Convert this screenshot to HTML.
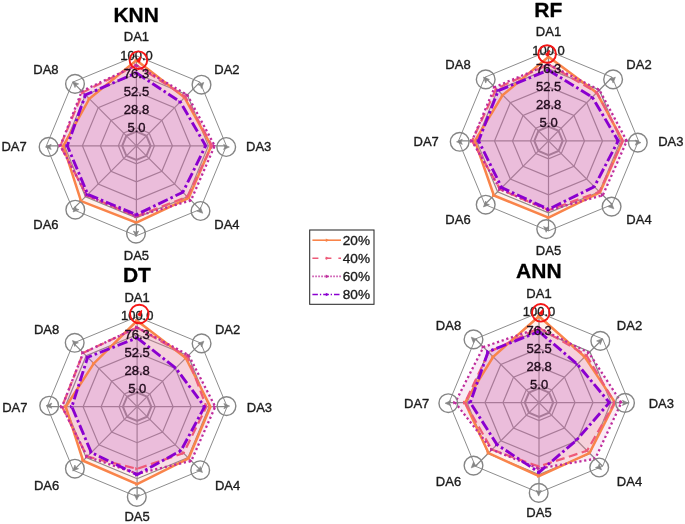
<!DOCTYPE html><html><head><meta charset="utf-8"><title>Radar</title>
<style>html,body{margin:0;padding:0;background:#fff}svg{display:block;filter:blur(0.45px)}text{font-family:"Liberation Sans", Arial, sans-serif;fill:#1c1c1c;stroke:#1c1c1c;stroke-width:0.35px;stroke-linejoin:round}</style></head><body>
<svg width="685" height="524" viewBox="0 0 685 524">
<rect width="685" height="524" fill="#fff"/>
<g>
<polygon points="136.40,127.80 149.13,133.07 154.40,145.80 149.13,158.53 136.40,163.80 123.67,158.53 118.40,145.80 123.67,133.07" fill="none" stroke="#858585" stroke-width="1.2"/>
<polygon points="136.40,109.80 161.86,120.34 172.40,145.80 161.86,171.26 136.40,181.80 110.94,171.26 100.40,145.80 110.94,120.34" fill="none" stroke="#858585" stroke-width="1.2"/>
<polygon points="136.40,91.80 174.58,107.62 190.40,145.80 174.58,183.98 136.40,199.80 98.22,183.98 82.40,145.80 98.22,107.62" fill="none" stroke="#858585" stroke-width="1.2"/>
<polygon points="136.40,73.80 187.31,94.89 208.40,145.80 187.31,196.71 136.40,217.80 85.49,196.71 64.40,145.80 85.49,94.89" fill="none" stroke="#858585" stroke-width="1.2"/>
<polygon points="136.40,55.80 200.04,82.16 226.40,145.80 200.04,209.44 136.40,235.80 72.76,209.44 46.40,145.80 72.76,82.16" fill="none" stroke="#8d8d8d" stroke-width="1.0"/>
<polygon points="136.40,131.60 146.44,135.76 150.60,145.80 146.44,155.84 136.40,160.00 126.36,155.84 122.20,145.80 126.36,135.76" fill="none" stroke="#858585" stroke-width="2.0"/>
<line x1="136.40" y1="145.80" x2="136.40" y2="55.80" stroke="#858585" stroke-width="1.2"/>
<line x1="136.40" y1="145.80" x2="200.04" y2="82.16" stroke="#858585" stroke-width="1.2"/>
<line x1="136.40" y1="145.80" x2="226.40" y2="145.80" stroke="#858585" stroke-width="1.2"/>
<line x1="136.40" y1="145.80" x2="200.04" y2="209.44" stroke="#858585" stroke-width="1.2"/>
<line x1="136.40" y1="145.80" x2="136.40" y2="235.80" stroke="#858585" stroke-width="1.2"/>
<line x1="136.40" y1="145.80" x2="72.76" y2="209.44" stroke="#858585" stroke-width="1.2"/>
<line x1="136.40" y1="145.80" x2="46.40" y2="145.80" stroke="#858585" stroke-width="1.2"/>
<line x1="136.40" y1="145.80" x2="72.76" y2="82.16" stroke="#858585" stroke-width="1.2"/>
<polygon points="136.40,60.30 184.58,97.62 211.28,145.80 188.58,197.98 136.40,222.57 81.03,201.17 63.32,145.80 89.31,98.71" fill="#FBA67D" fill-opacity="0.140" stroke="none"/>
<polygon points="136.40,65.25 185.40,96.80 212.00,145.80 187.31,196.71 136.40,216.45 86.76,195.44 60.35,145.80 82.94,92.34" fill="#F3889E" fill-opacity="0.140" stroke="none"/>
<polygon points="136.40,65.25 187.31,94.89 214.70,145.80 191.00,200.40 136.40,216.45 86.76,195.44 60.35,145.80 81.80,91.20" fill="#D167B8" fill-opacity="0.140" stroke="none"/>
<polygon points="136.40,72.90 180.31,101.89 205.70,145.80 182.86,192.26 136.40,214.65 87.78,194.42 67.28,145.80 85.49,94.89" fill="#AB47DD" fill-opacity="0.140" stroke="none"/>
<polygon points="136.40,60.30 184.58,97.62 211.28,145.80 188.58,197.98 136.40,222.57 81.03,201.17 63.32,145.80 89.31,98.71" fill="none" stroke="#F9844A" stroke-width="2.5" stroke-linejoin="miter"/>
<path d="M137.70 60.30 l-3.2 -1.9 v3.8 z" fill="#F9844A"/>
<path d="M185.88 97.62 l-3.2 -1.9 v3.8 z" fill="#F9844A"/>
<path d="M212.58 145.80 l-3.2 -1.9 v3.8 z" fill="#F9844A"/>
<path d="M189.88 197.98 l-3.2 -1.9 v3.8 z" fill="#F9844A"/>
<path d="M137.70 222.57 l-3.2 -1.9 v3.8 z" fill="#F9844A"/>
<path d="M82.33 201.17 l-3.2 -1.9 v3.8 z" fill="#F9844A"/>
<path d="M64.62 145.80 l-3.2 -1.9 v3.8 z" fill="#F9844A"/>
<path d="M90.61 98.71 l-3.2 -1.9 v3.8 z" fill="#F9844A"/>
<polygon points="136.40,65.25 185.40,96.80 212.00,145.80 187.31,196.71 136.40,216.45 86.76,195.44 60.35,145.80 82.94,92.34" fill="none" stroke="#EE5A78" stroke-width="2.2" stroke-linejoin="miter" stroke-dasharray="9 4.5"/>
<path d="M137.70 65.25 l-3.2 -1.9 v3.8 z" fill="#EE5A78"/>
<path d="M186.70 96.80 l-3.2 -1.9 v3.8 z" fill="#EE5A78"/>
<path d="M213.30 145.80 l-3.2 -1.9 v3.8 z" fill="#EE5A78"/>
<path d="M188.61 196.71 l-3.2 -1.9 v3.8 z" fill="#EE5A78"/>
<path d="M137.70 216.45 l-3.2 -1.9 v3.8 z" fill="#EE5A78"/>
<path d="M88.06 195.44 l-3.2 -1.9 v3.8 z" fill="#EE5A78"/>
<path d="M61.65 145.80 l-3.2 -1.9 v3.8 z" fill="#EE5A78"/>
<path d="M84.24 92.34 l-3.2 -1.9 v3.8 z" fill="#EE5A78"/>
<polygon points="136.40,65.25 187.31,94.89 214.70,145.80 191.00,200.40 136.40,216.45 86.76,195.44 60.35,145.80 81.80,91.20" fill="none" stroke="#BF2C9C" stroke-width="2.3" stroke-linejoin="miter" stroke-dasharray="2.2 2.7"/>
<path d="M137.70 65.25 l-3.2 -1.9 v3.8 z" fill="#BF2C9C"/>
<path d="M188.61 94.89 l-3.2 -1.9 v3.8 z" fill="#BF2C9C"/>
<path d="M216.00 145.80 l-3.2 -1.9 v3.8 z" fill="#BF2C9C"/>
<path d="M192.30 200.40 l-3.2 -1.9 v3.8 z" fill="#BF2C9C"/>
<path d="M137.70 216.45 l-3.2 -1.9 v3.8 z" fill="#BF2C9C"/>
<path d="M88.06 195.44 l-3.2 -1.9 v3.8 z" fill="#BF2C9C"/>
<path d="M61.65 145.80 l-3.2 -1.9 v3.8 z" fill="#BF2C9C"/>
<path d="M83.10 91.20 l-3.2 -1.9 v3.8 z" fill="#BF2C9C"/>
<polygon points="136.40,72.90 180.31,101.89 205.70,145.80 182.86,192.26 136.40,214.65 87.78,194.42 67.28,145.80 85.49,94.89" fill="none" stroke="#8A00D0" stroke-width="2.9" stroke-linejoin="miter" stroke-dasharray="10.5 3 2.6 3"/>
<path d="M137.70 72.90 l-3.2 -1.9 v3.8 z" fill="#8A00D0"/>
<path d="M181.61 101.89 l-3.2 -1.9 v3.8 z" fill="#8A00D0"/>
<path d="M207.00 145.80 l-3.2 -1.9 v3.8 z" fill="#8A00D0"/>
<path d="M184.16 192.26 l-3.2 -1.9 v3.8 z" fill="#8A00D0"/>
<path d="M137.70 214.65 l-3.2 -1.9 v3.8 z" fill="#8A00D0"/>
<path d="M89.08 194.42 l-3.2 -1.9 v3.8 z" fill="#8A00D0"/>
<path d="M68.58 145.80 l-3.2 -1.9 v3.8 z" fill="#8A00D0"/>
<path d="M86.79 94.89 l-3.2 -1.9 v3.8 z" fill="#8A00D0"/>
<circle cx="201.50" cy="84.70" r="9.35" fill="none" stroke="#858585" stroke-width="1.4"/>
<path d="M3.2 0 L-2.6 -2.6 L-1.4 0 L-2.6 2.6 Z" stroke="#858585" stroke-width="0.6" stroke-linejoin="round" fill="#858585" transform="translate(201.50,84.70) rotate(-45)"/>
<circle cx="226.20" cy="147.00" r="9.35" fill="none" stroke="#858585" stroke-width="1.4"/>
<path d="M3.2 0 L-2.6 -2.6 L-1.4 0 L-2.6 2.6 Z" stroke="#858585" stroke-width="0.6" stroke-linejoin="round" fill="#858585" transform="translate(226.20,147.00) rotate(0)"/>
<circle cx="200.50" cy="211.00" r="9.35" fill="none" stroke="#858585" stroke-width="1.4"/>
<path d="M3.2 0 L-2.6 -2.6 L-1.4 0 L-2.6 2.6 Z" stroke="#858585" stroke-width="0.6" stroke-linejoin="round" fill="#858585" transform="translate(200.50,211.00) rotate(45)"/>
<circle cx="136.00" cy="233.60" r="9.35" fill="none" stroke="#858585" stroke-width="1.4"/>
<path d="M3.2 0 L-2.6 -2.6 L-1.4 0 L-2.6 2.6 Z" stroke="#858585" stroke-width="0.6" stroke-linejoin="round" fill="#858585" transform="translate(136.00,233.60) rotate(90)"/>
<circle cx="75.30" cy="209.70" r="9.35" fill="none" stroke="#858585" stroke-width="1.4"/>
<path d="M3.2 0 L-2.6 -2.6 L-1.4 0 L-2.6 2.6 Z" stroke="#858585" stroke-width="0.6" stroke-linejoin="round" fill="#858585" transform="translate(75.30,209.70) rotate(135)"/>
<circle cx="48.60" cy="146.90" r="9.35" fill="none" stroke="#858585" stroke-width="1.4"/>
<path d="M3.2 0 L-2.6 -2.6 L-1.4 0 L-2.6 2.6 Z" stroke="#858585" stroke-width="0.6" stroke-linejoin="round" fill="#858585" transform="translate(48.60,146.90) rotate(180)"/>
<circle cx="75.00" cy="83.90" r="9.35" fill="none" stroke="#858585" stroke-width="1.4"/>
<path d="M3.2 0 L-2.6 -2.6 L-1.4 0 L-2.6 2.6 Z" stroke="#858585" stroke-width="0.6" stroke-linejoin="round" fill="#858585" transform="translate(75.00,83.90) rotate(225)"/>
<text x="136.50" y="131.80" font-size="13" text-anchor="middle" style="fill:#200b1c;stroke:#200b1c">5.0</text>
<text x="136.50" y="113.80" font-size="13" text-anchor="middle" style="fill:#200b1c;stroke:#200b1c">28.8</text>
<text x="136.50" y="95.80" font-size="13" text-anchor="middle" style="fill:#200b1c;stroke:#200b1c">52.5</text>
<text x="136.50" y="77.80" font-size="13" text-anchor="middle" style="fill:#200b1c;stroke:#200b1c">76.3</text>
<text x="136.50" y="59.50" font-size="13" text-anchor="middle" style="fill:#1c1c1c;stroke:#1c1c1c">100.0</text>
<circle cx="138.40" cy="60.20" r="8.8" fill="none" stroke="#F51616" stroke-width="1.9"/>
<path d="M137.20 60.80 l3.4 -3.8 l-1.2 5 z" fill="#F51616" stroke="#F51616" stroke-width="1.4" stroke-linejoin="round"/>
<text x="136.40" y="41.00" font-size="13" text-anchor="middle">DA1</text>
<text x="226.90" y="73.50" font-size="13" text-anchor="middle">DA2</text>
<text x="258.70" y="150.80" font-size="13" text-anchor="middle">DA3</text>
<text x="226.90" y="228.70" font-size="13" text-anchor="middle">DA4</text>
<text x="136.40" y="260.30" font-size="13" text-anchor="middle">DA5</text>
<text x="45.90" y="228.70" font-size="13" text-anchor="middle">DA6</text>
<text x="14.10" y="150.80" font-size="13" text-anchor="middle">DA7</text>
<text x="45.90" y="73.50" font-size="13" text-anchor="middle">DA8</text>
<text x="136.20" y="21.50" font-size="21" font-weight="bold" text-anchor="middle" style="fill:#000;stroke:#000;stroke-width:0.3px">KNN</text>
</g>
<g>
<polygon points="548.50,122.90 561.23,128.17 566.50,140.90 561.23,153.63 548.50,158.90 535.77,153.63 530.50,140.90 535.77,128.17" fill="none" stroke="#858585" stroke-width="1.2"/>
<polygon points="548.50,104.90 573.96,115.44 584.50,140.90 573.96,166.36 548.50,176.90 523.04,166.36 512.50,140.90 523.04,115.44" fill="none" stroke="#858585" stroke-width="1.2"/>
<polygon points="548.50,86.90 586.68,102.72 602.50,140.90 586.68,179.08 548.50,194.90 510.32,179.08 494.50,140.90 510.32,102.72" fill="none" stroke="#858585" stroke-width="1.2"/>
<polygon points="548.50,68.90 599.41,89.99 620.50,140.90 599.41,191.81 548.50,212.90 497.59,191.81 476.50,140.90 497.59,89.99" fill="none" stroke="#858585" stroke-width="1.2"/>
<polygon points="548.50,50.90 612.14,77.26 638.50,140.90 612.14,204.54 548.50,230.90 484.86,204.54 458.50,140.90 484.86,77.26" fill="none" stroke="#8d8d8d" stroke-width="1.0"/>
<polygon points="548.50,126.70 558.54,130.86 562.70,140.90 558.54,150.94 548.50,155.10 538.46,150.94 534.30,140.90 538.46,130.86" fill="none" stroke="#858585" stroke-width="2.0"/>
<line x1="548.50" y1="140.90" x2="548.50" y2="50.90" stroke="#858585" stroke-width="1.2"/>
<line x1="548.50" y1="140.90" x2="612.14" y2="77.26" stroke="#858585" stroke-width="1.2"/>
<line x1="548.50" y1="140.90" x2="638.50" y2="140.90" stroke="#858585" stroke-width="1.2"/>
<line x1="548.50" y1="140.90" x2="612.14" y2="204.54" stroke="#858585" stroke-width="1.2"/>
<line x1="548.50" y1="140.90" x2="548.50" y2="230.90" stroke="#858585" stroke-width="1.2"/>
<line x1="548.50" y1="140.90" x2="484.86" y2="204.54" stroke="#858585" stroke-width="1.2"/>
<line x1="548.50" y1="140.90" x2="458.50" y2="140.90" stroke="#858585" stroke-width="1.2"/>
<line x1="548.50" y1="140.90" x2="484.86" y2="77.26" stroke="#858585" stroke-width="1.2"/>
<polygon points="548.50,56.75 596.74,92.66 622.75,140.90 600.05,192.45 548.50,217.58 493.90,195.50 474.88,140.90 502.68,95.08" fill="#FBA67D" fill-opacity="0.140" stroke="none"/>
<polygon points="548.50,64.40 596.87,92.53 622.75,140.90 599.41,191.81 548.50,210.20 500.13,189.27 472.00,140.90 496.32,88.72" fill="#F3889E" fill-opacity="0.140" stroke="none"/>
<polygon points="548.50,64.40 599.41,89.99 626.80,140.90 602.85,195.25 548.50,210.20 500.13,189.27 472.00,140.90 494.72,87.12" fill="#D167B8" fill-opacity="0.140" stroke="none"/>
<polygon points="548.50,70.16 592.28,97.12 618.16,140.90 594.32,186.72 548.50,209.30 501.72,187.68 478.57,140.90 498.22,90.62" fill="#AB47DD" fill-opacity="0.140" stroke="none"/>
<polygon points="548.50,56.75 596.74,92.66 622.75,140.90 600.05,192.45 548.50,217.58 493.90,195.50 474.88,140.90 502.68,95.08" fill="none" stroke="#F9844A" stroke-width="2.5" stroke-linejoin="miter"/>
<path d="M549.80 56.75 l-3.2 -1.9 v3.8 z" fill="#F9844A"/>
<path d="M598.04 92.66 l-3.2 -1.9 v3.8 z" fill="#F9844A"/>
<path d="M624.05 140.90 l-3.2 -1.9 v3.8 z" fill="#F9844A"/>
<path d="M601.35 192.45 l-3.2 -1.9 v3.8 z" fill="#F9844A"/>
<path d="M549.80 217.58 l-3.2 -1.9 v3.8 z" fill="#F9844A"/>
<path d="M495.20 195.50 l-3.2 -1.9 v3.8 z" fill="#F9844A"/>
<path d="M476.18 140.90 l-3.2 -1.9 v3.8 z" fill="#F9844A"/>
<path d="M503.98 95.08 l-3.2 -1.9 v3.8 z" fill="#F9844A"/>
<polygon points="548.50,64.40 596.87,92.53 622.75,140.90 599.41,191.81 548.50,210.20 500.13,189.27 472.00,140.90 496.32,88.72" fill="none" stroke="#EE5A78" stroke-width="2.2" stroke-linejoin="miter" stroke-dasharray="9 4.5"/>
<path d="M549.80 64.40 l-3.2 -1.9 v3.8 z" fill="#EE5A78"/>
<path d="M598.17 92.53 l-3.2 -1.9 v3.8 z" fill="#EE5A78"/>
<path d="M624.05 140.90 l-3.2 -1.9 v3.8 z" fill="#EE5A78"/>
<path d="M600.71 191.81 l-3.2 -1.9 v3.8 z" fill="#EE5A78"/>
<path d="M549.80 210.20 l-3.2 -1.9 v3.8 z" fill="#EE5A78"/>
<path d="M501.43 189.27 l-3.2 -1.9 v3.8 z" fill="#EE5A78"/>
<path d="M473.30 140.90 l-3.2 -1.9 v3.8 z" fill="#EE5A78"/>
<path d="M497.62 88.72 l-3.2 -1.9 v3.8 z" fill="#EE5A78"/>
<polygon points="548.50,64.40 599.41,89.99 626.80,140.90 602.85,195.25 548.50,210.20 500.13,189.27 472.00,140.90 494.72,87.12" fill="none" stroke="#BF2C9C" stroke-width="2.3" stroke-linejoin="miter" stroke-dasharray="2.2 2.7"/>
<path d="M549.80 64.40 l-3.2 -1.9 v3.8 z" fill="#BF2C9C"/>
<path d="M600.71 89.99 l-3.2 -1.9 v3.8 z" fill="#BF2C9C"/>
<path d="M628.10 140.90 l-3.2 -1.9 v3.8 z" fill="#BF2C9C"/>
<path d="M604.15 195.25 l-3.2 -1.9 v3.8 z" fill="#BF2C9C"/>
<path d="M549.80 210.20 l-3.2 -1.9 v3.8 z" fill="#BF2C9C"/>
<path d="M501.43 189.27 l-3.2 -1.9 v3.8 z" fill="#BF2C9C"/>
<path d="M473.30 140.90 l-3.2 -1.9 v3.8 z" fill="#BF2C9C"/>
<path d="M496.02 87.12 l-3.2 -1.9 v3.8 z" fill="#BF2C9C"/>
<polygon points="548.50,70.16 592.28,97.12 618.16,140.90 594.32,186.72 548.50,209.30 501.72,187.68 478.57,140.90 498.22,90.62" fill="none" stroke="#8A00D0" stroke-width="2.9" stroke-linejoin="miter" stroke-dasharray="10.5 3 2.6 3"/>
<path d="M549.80 70.16 l-3.2 -1.9 v3.8 z" fill="#8A00D0"/>
<path d="M593.58 97.12 l-3.2 -1.9 v3.8 z" fill="#8A00D0"/>
<path d="M619.46 140.90 l-3.2 -1.9 v3.8 z" fill="#8A00D0"/>
<path d="M595.62 186.72 l-3.2 -1.9 v3.8 z" fill="#8A00D0"/>
<path d="M549.80 209.30 l-3.2 -1.9 v3.8 z" fill="#8A00D0"/>
<path d="M503.02 187.68 l-3.2 -1.9 v3.8 z" fill="#8A00D0"/>
<path d="M479.87 140.90 l-3.2 -1.9 v3.8 z" fill="#8A00D0"/>
<path d="M499.52 90.62 l-3.2 -1.9 v3.8 z" fill="#8A00D0"/>
<circle cx="613.10" cy="79.40" r="9.35" fill="none" stroke="#858585" stroke-width="1.4"/>
<path d="M3.2 0 L-2.6 -2.6 L-1.4 0 L-2.6 2.6 Z" stroke="#858585" stroke-width="0.6" stroke-linejoin="round" fill="#858585" transform="translate(613.10,79.40) rotate(-45)"/>
<circle cx="637.80" cy="142.60" r="9.35" fill="none" stroke="#858585" stroke-width="1.4"/>
<path d="M3.2 0 L-2.6 -2.6 L-1.4 0 L-2.6 2.6 Z" stroke="#858585" stroke-width="0.6" stroke-linejoin="round" fill="#858585" transform="translate(637.80,142.60) rotate(0)"/>
<circle cx="611.60" cy="206.60" r="9.35" fill="none" stroke="#858585" stroke-width="1.4"/>
<path d="M3.2 0 L-2.6 -2.6 L-1.4 0 L-2.6 2.6 Z" stroke="#858585" stroke-width="0.6" stroke-linejoin="round" fill="#858585" transform="translate(611.60,206.60) rotate(45)"/>
<circle cx="546.20" cy="229.10" r="9.35" fill="none" stroke="#858585" stroke-width="1.4"/>
<path d="M3.2 0 L-2.6 -2.6 L-1.4 0 L-2.6 2.6 Z" stroke="#858585" stroke-width="0.6" stroke-linejoin="round" fill="#858585" transform="translate(546.20,229.10) rotate(90)"/>
<circle cx="485.70" cy="204.70" r="9.35" fill="none" stroke="#858585" stroke-width="1.4"/>
<path d="M3.2 0 L-2.6 -2.6 L-1.4 0 L-2.6 2.6 Z" stroke="#858585" stroke-width="0.6" stroke-linejoin="round" fill="#858585" transform="translate(485.70,204.70) rotate(135)"/>
<circle cx="459.70" cy="141.80" r="9.35" fill="none" stroke="#858585" stroke-width="1.4"/>
<path d="M3.2 0 L-2.6 -2.6 L-1.4 0 L-2.6 2.6 Z" stroke="#858585" stroke-width="0.6" stroke-linejoin="round" fill="#858585" transform="translate(459.70,141.80) rotate(180)"/>
<circle cx="485.70" cy="79.40" r="9.35" fill="none" stroke="#858585" stroke-width="1.4"/>
<path d="M3.2 0 L-2.6 -2.6 L-1.4 0 L-2.6 2.6 Z" stroke="#858585" stroke-width="0.6" stroke-linejoin="round" fill="#858585" transform="translate(485.70,79.40) rotate(225)"/>
<text x="548.60" y="126.90" font-size="13" text-anchor="middle" style="fill:#200b1c;stroke:#200b1c">5.0</text>
<text x="548.60" y="108.90" font-size="13" text-anchor="middle" style="fill:#200b1c;stroke:#200b1c">28.8</text>
<text x="548.60" y="90.90" font-size="13" text-anchor="middle" style="fill:#200b1c;stroke:#200b1c">52.5</text>
<text x="548.60" y="72.90" font-size="13" text-anchor="middle" style="fill:#200b1c;stroke:#200b1c">76.3</text>
<text x="548.60" y="54.60" font-size="13" text-anchor="middle" style="fill:#1c1c1c;stroke:#1c1c1c">100.0</text>
<circle cx="547.10" cy="54.00" r="8.8" fill="none" stroke="#F51616" stroke-width="1.9"/>
<path d="M545.90 54.60 l3.4 -3.8 l-1.2 5 z" fill="#F51616" stroke="#F51616" stroke-width="1.4" stroke-linejoin="round"/>
<text x="548.50" y="36.10" font-size="13" text-anchor="middle">DA1</text>
<text x="639.00" y="68.60" font-size="13" text-anchor="middle">DA2</text>
<text x="670.80" y="145.90" font-size="13" text-anchor="middle">DA3</text>
<text x="639.00" y="223.80" font-size="13" text-anchor="middle">DA4</text>
<text x="548.50" y="255.40" font-size="13" text-anchor="middle">DA5</text>
<text x="458.00" y="223.80" font-size="13" text-anchor="middle">DA6</text>
<text x="426.20" y="145.90" font-size="13" text-anchor="middle">DA7</text>
<text x="458.00" y="68.60" font-size="13" text-anchor="middle">DA8</text>
<text x="548.30" y="16.60" font-size="21" font-weight="bold" text-anchor="middle" style="fill:#000;stroke:#000;stroke-width:0.3px">RF</text>
</g>
<g>
<polygon points="137.10,388.70 149.83,393.97 155.10,406.70 149.83,419.43 137.10,424.70 124.37,419.43 119.10,406.70 124.37,393.97" fill="none" stroke="#858585" stroke-width="1.2"/>
<polygon points="137.10,370.70 162.56,381.24 173.10,406.70 162.56,432.16 137.10,442.70 111.64,432.16 101.10,406.70 111.64,381.24" fill="none" stroke="#858585" stroke-width="1.2"/>
<polygon points="137.10,352.70 175.28,368.52 191.10,406.70 175.28,444.88 137.10,460.70 98.92,444.88 83.10,406.70 98.92,368.52" fill="none" stroke="#858585" stroke-width="1.2"/>
<polygon points="137.10,334.70 188.01,355.79 209.10,406.70 188.01,457.61 137.10,478.70 86.19,457.61 65.10,406.70 86.19,355.79" fill="none" stroke="#858585" stroke-width="1.2"/>
<polygon points="137.10,316.70 200.74,343.06 227.10,406.70 200.74,470.34 137.10,496.70 73.46,470.34 47.10,406.70 73.46,343.06" fill="none" stroke="#8d8d8d" stroke-width="1.0"/>
<polygon points="137.10,392.50 147.14,396.66 151.30,406.70 147.14,416.74 137.10,420.90 127.06,416.74 122.90,406.70 127.06,396.66" fill="none" stroke="#858585" stroke-width="2.0"/>
<line x1="137.10" y1="406.70" x2="137.10" y2="316.70" stroke="#858585" stroke-width="1.2"/>
<line x1="137.10" y1="406.70" x2="200.74" y2="343.06" stroke="#858585" stroke-width="1.2"/>
<line x1="137.10" y1="406.70" x2="227.10" y2="406.70" stroke="#858585" stroke-width="1.2"/>
<line x1="137.10" y1="406.70" x2="200.74" y2="470.34" stroke="#858585" stroke-width="1.2"/>
<line x1="137.10" y1="406.70" x2="137.10" y2="496.70" stroke="#858585" stroke-width="1.2"/>
<line x1="137.10" y1="406.70" x2="73.46" y2="470.34" stroke="#858585" stroke-width="1.2"/>
<line x1="137.10" y1="406.70" x2="47.10" y2="406.70" stroke="#858585" stroke-width="1.2"/>
<line x1="137.10" y1="406.70" x2="73.46" y2="343.06" stroke="#858585" stroke-width="1.2"/>
<polygon points="137.10,320.75 185.78,358.02 210.45,406.70 188.65,458.25 137.10,484.10 83.07,460.73 65.73,406.70 93.83,363.43" fill="#FBA67D" fill-opacity="0.140" stroke="none"/>
<polygon points="137.10,327.50 187.38,356.42 206.40,406.70 183.56,453.16 137.10,468.80 87.14,456.66 62.04,406.70 83.20,352.80" fill="#F3889E" fill-opacity="0.140" stroke="none"/>
<polygon points="137.10,327.50 188.65,355.15 215.22,406.70 191.32,460.92 137.10,473.66 87.14,456.66 62.04,406.70 83.20,352.80" fill="#D167B8" fill-opacity="0.140" stroke="none"/>
<polygon points="137.10,337.85 175.73,368.07 204.60,406.70 181.01,450.61 137.10,474.74 91.28,452.52 71.85,406.70 87.65,357.25" fill="#AB47DD" fill-opacity="0.140" stroke="none"/>
<polygon points="137.10,320.75 185.78,358.02 210.45,406.70 188.65,458.25 137.10,484.10 83.07,460.73 65.73,406.70 93.83,363.43" fill="none" stroke="#F9844A" stroke-width="2.5" stroke-linejoin="miter"/>
<path d="M138.40 320.75 l-3.2 -1.9 v3.8 z" fill="#F9844A"/>
<path d="M187.08 358.02 l-3.2 -1.9 v3.8 z" fill="#F9844A"/>
<path d="M211.75 406.70 l-3.2 -1.9 v3.8 z" fill="#F9844A"/>
<path d="M189.95 458.25 l-3.2 -1.9 v3.8 z" fill="#F9844A"/>
<path d="M138.40 484.10 l-3.2 -1.9 v3.8 z" fill="#F9844A"/>
<path d="M84.37 460.73 l-3.2 -1.9 v3.8 z" fill="#F9844A"/>
<path d="M67.03 406.70 l-3.2 -1.9 v3.8 z" fill="#F9844A"/>
<path d="M95.13 363.43 l-3.2 -1.9 v3.8 z" fill="#F9844A"/>
<polygon points="137.10,327.50 187.38,356.42 206.40,406.70 183.56,453.16 137.10,468.80 87.14,456.66 62.04,406.70 83.20,352.80" fill="none" stroke="#EE5A78" stroke-width="2.2" stroke-linejoin="miter" stroke-dasharray="9 4.5"/>
<path d="M138.40 327.50 l-3.2 -1.9 v3.8 z" fill="#EE5A78"/>
<path d="M188.68 356.42 l-3.2 -1.9 v3.8 z" fill="#EE5A78"/>
<path d="M207.70 406.70 l-3.2 -1.9 v3.8 z" fill="#EE5A78"/>
<path d="M184.86 453.16 l-3.2 -1.9 v3.8 z" fill="#EE5A78"/>
<path d="M138.40 468.80 l-3.2 -1.9 v3.8 z" fill="#EE5A78"/>
<path d="M88.44 456.66 l-3.2 -1.9 v3.8 z" fill="#EE5A78"/>
<path d="M63.34 406.70 l-3.2 -1.9 v3.8 z" fill="#EE5A78"/>
<path d="M84.50 352.80 l-3.2 -1.9 v3.8 z" fill="#EE5A78"/>
<polygon points="137.10,327.50 188.65,355.15 215.22,406.70 191.32,460.92 137.10,473.66 87.14,456.66 62.04,406.70 83.20,352.80" fill="none" stroke="#BF2C9C" stroke-width="2.3" stroke-linejoin="miter" stroke-dasharray="2.2 2.7"/>
<path d="M138.40 327.50 l-3.2 -1.9 v3.8 z" fill="#BF2C9C"/>
<path d="M189.95 355.15 l-3.2 -1.9 v3.8 z" fill="#BF2C9C"/>
<path d="M216.52 406.70 l-3.2 -1.9 v3.8 z" fill="#BF2C9C"/>
<path d="M192.62 460.92 l-3.2 -1.9 v3.8 z" fill="#BF2C9C"/>
<path d="M138.40 473.66 l-3.2 -1.9 v3.8 z" fill="#BF2C9C"/>
<path d="M88.44 456.66 l-3.2 -1.9 v3.8 z" fill="#BF2C9C"/>
<path d="M63.34 406.70 l-3.2 -1.9 v3.8 z" fill="#BF2C9C"/>
<path d="M84.50 352.80 l-3.2 -1.9 v3.8 z" fill="#BF2C9C"/>
<polygon points="137.10,337.85 175.73,368.07 204.60,406.70 181.01,450.61 137.10,474.74 91.28,452.52 71.85,406.70 87.65,357.25" fill="none" stroke="#8A00D0" stroke-width="2.9" stroke-linejoin="miter" stroke-dasharray="10.5 3 2.6 3"/>
<path d="M138.40 337.85 l-3.2 -1.9 v3.8 z" fill="#8A00D0"/>
<path d="M177.03 368.07 l-3.2 -1.9 v3.8 z" fill="#8A00D0"/>
<path d="M205.90 406.70 l-3.2 -1.9 v3.8 z" fill="#8A00D0"/>
<path d="M182.31 450.61 l-3.2 -1.9 v3.8 z" fill="#8A00D0"/>
<path d="M138.40 474.74 l-3.2 -1.9 v3.8 z" fill="#8A00D0"/>
<path d="M92.58 452.52 l-3.2 -1.9 v3.8 z" fill="#8A00D0"/>
<path d="M73.15 406.70 l-3.2 -1.9 v3.8 z" fill="#8A00D0"/>
<path d="M88.95 357.25 l-3.2 -1.9 v3.8 z" fill="#8A00D0"/>
<circle cx="201.60" cy="343.40" r="9.35" fill="none" stroke="#858585" stroke-width="1.4"/>
<path d="M3.2 0 L-2.6 -2.6 L-1.4 0 L-2.6 2.6 Z" stroke="#858585" stroke-width="0.6" stroke-linejoin="round" fill="#858585" transform="translate(201.60,343.40) rotate(-45)"/>
<circle cx="226.50" cy="406.10" r="9.35" fill="none" stroke="#858585" stroke-width="1.4"/>
<path d="M3.2 0 L-2.6 -2.6 L-1.4 0 L-2.6 2.6 Z" stroke="#858585" stroke-width="0.6" stroke-linejoin="round" fill="#858585" transform="translate(226.50,406.10) rotate(0)"/>
<circle cx="200.20" cy="470.20" r="9.35" fill="none" stroke="#858585" stroke-width="1.4"/>
<path d="M3.2 0 L-2.6 -2.6 L-1.4 0 L-2.6 2.6 Z" stroke="#858585" stroke-width="0.6" stroke-linejoin="round" fill="#858585" transform="translate(200.20,470.20) rotate(45)"/>
<circle cx="136.80" cy="496.90" r="9.35" fill="none" stroke="#858585" stroke-width="1.4"/>
<path d="M3.2 0 L-2.6 -2.6 L-1.4 0 L-2.6 2.6 Z" stroke="#858585" stroke-width="0.6" stroke-linejoin="round" fill="#858585" transform="translate(136.80,496.90) rotate(90)"/>
<circle cx="74.90" cy="468.70" r="9.35" fill="none" stroke="#858585" stroke-width="1.4"/>
<path d="M3.2 0 L-2.6 -2.6 L-1.4 0 L-2.6 2.6 Z" stroke="#858585" stroke-width="0.6" stroke-linejoin="round" fill="#858585" transform="translate(74.90,468.70) rotate(135)"/>
<circle cx="49.20" cy="405.70" r="9.35" fill="none" stroke="#858585" stroke-width="1.4"/>
<path d="M3.2 0 L-2.6 -2.6 L-1.4 0 L-2.6 2.6 Z" stroke="#858585" stroke-width="0.6" stroke-linejoin="round" fill="#858585" transform="translate(49.20,405.70) rotate(180)"/>
<circle cx="74.70" cy="342.80" r="9.35" fill="none" stroke="#858585" stroke-width="1.4"/>
<path d="M3.2 0 L-2.6 -2.6 L-1.4 0 L-2.6 2.6 Z" stroke="#858585" stroke-width="0.6" stroke-linejoin="round" fill="#858585" transform="translate(74.70,342.80) rotate(225)"/>
<text x="137.20" y="392.70" font-size="13" text-anchor="middle" style="fill:#200b1c;stroke:#200b1c">5.0</text>
<text x="137.20" y="374.70" font-size="13" text-anchor="middle" style="fill:#200b1c;stroke:#200b1c">28.8</text>
<text x="137.20" y="356.70" font-size="13" text-anchor="middle" style="fill:#200b1c;stroke:#200b1c">52.5</text>
<text x="137.20" y="338.70" font-size="13" text-anchor="middle" style="fill:#200b1c;stroke:#200b1c">76.3</text>
<text x="137.20" y="320.40" font-size="13" text-anchor="middle" style="fill:#1c1c1c;stroke:#1c1c1c">100.0</text>
<circle cx="139.30" cy="314.00" r="9.3" fill="none" stroke="#F51616" stroke-width="1.9"/>
<path d="M138.10 314.60 l3.4 -3.8 l-1.2 5 z" fill="#F51616" stroke="#F51616" stroke-width="1.4" stroke-linejoin="round"/>
<text x="137.10" y="301.90" font-size="13" text-anchor="middle">DA1</text>
<text x="227.60" y="334.40" font-size="13" text-anchor="middle">DA2</text>
<text x="259.40" y="411.70" font-size="13" text-anchor="middle">DA3</text>
<text x="227.60" y="489.60" font-size="13" text-anchor="middle">DA4</text>
<text x="137.10" y="521.20" font-size="13" text-anchor="middle">DA5</text>
<text x="46.60" y="489.60" font-size="13" text-anchor="middle">DA6</text>
<text x="14.80" y="411.70" font-size="13" text-anchor="middle">DA7</text>
<text x="46.60" y="334.40" font-size="13" text-anchor="middle">DA8</text>
<text x="136.90" y="282.40" font-size="21" font-weight="bold" text-anchor="middle" style="fill:#000;stroke:#000;stroke-width:0.3px">DT</text>
</g>
<g>
<polygon points="539.00,384.60 551.73,389.87 557.00,402.60 551.73,415.33 539.00,420.60 526.27,415.33 521.00,402.60 526.27,389.87" fill="none" stroke="#858585" stroke-width="1.2"/>
<polygon points="539.00,366.60 564.46,377.14 575.00,402.60 564.46,428.06 539.00,438.60 513.54,428.06 503.00,402.60 513.54,377.14" fill="none" stroke="#858585" stroke-width="1.2"/>
<polygon points="539.00,348.60 577.18,364.42 593.00,402.60 577.18,440.78 539.00,456.60 500.82,440.78 485.00,402.60 500.82,364.42" fill="none" stroke="#858585" stroke-width="1.2"/>
<polygon points="539.00,330.60 589.91,351.69 611.00,402.60 589.91,453.51 539.00,474.60 488.09,453.51 467.00,402.60 488.09,351.69" fill="none" stroke="#858585" stroke-width="1.2"/>
<polygon points="539.00,312.60 602.64,338.96 629.00,402.60 602.64,466.24 539.00,492.60 475.36,466.24 449.00,402.60 475.36,338.96" fill="none" stroke="#8d8d8d" stroke-width="1.0"/>
<polygon points="539.00,388.40 549.04,392.56 553.20,402.60 549.04,412.64 539.00,416.80 528.96,412.64 524.80,402.60 528.96,392.56" fill="none" stroke="#858585" stroke-width="2.0"/>
<line x1="539.00" y1="402.60" x2="539.00" y2="312.60" stroke="#858585" stroke-width="1.2"/>
<line x1="539.00" y1="402.60" x2="602.64" y2="338.96" stroke="#858585" stroke-width="1.2"/>
<line x1="539.00" y1="402.60" x2="629.00" y2="402.60" stroke="#858585" stroke-width="1.2"/>
<line x1="539.00" y1="402.60" x2="602.64" y2="466.24" stroke="#858585" stroke-width="1.2"/>
<line x1="539.00" y1="402.60" x2="539.00" y2="492.60" stroke="#858585" stroke-width="1.2"/>
<line x1="539.00" y1="402.60" x2="475.36" y2="466.24" stroke="#858585" stroke-width="1.2"/>
<line x1="539.00" y1="402.60" x2="449.00" y2="402.60" stroke="#858585" stroke-width="1.2"/>
<line x1="539.00" y1="402.60" x2="475.36" y2="338.96" stroke="#858585" stroke-width="1.2"/>
<polygon points="539.00,316.20 584.69,356.91 615.05,402.60 589.47,453.07 539.00,476.22 488.53,453.07 464.93,402.60 493.18,356.78" fill="#FBA67D" fill-opacity="0.140" stroke="none"/>
<polygon points="539.00,327.90 586.41,355.19 614.60,402.60 587.11,450.71 539.00,466.50 491.91,449.69 464.93,402.60 488.72,352.32" fill="#F3889E" fill-opacity="0.140" stroke="none"/>
<polygon points="539.00,327.90 588.83,352.77 621.35,402.60 595.19,458.79 539.00,468.57 491.91,449.69 455.12,402.60 483.44,347.04" fill="#D167B8" fill-opacity="0.140" stroke="none"/>
<polygon points="539.00,331.50 577.37,364.23 609.38,402.60 576.55,440.15 539.00,472.35 497.00,444.60 470.24,402.60 488.09,351.69" fill="#AB47DD" fill-opacity="0.140" stroke="none"/>
<polygon points="539.00,316.20 584.69,356.91 615.05,402.60 589.47,453.07 539.00,476.22 488.53,453.07 464.93,402.60 493.18,356.78" fill="none" stroke="#F9844A" stroke-width="2.5" stroke-linejoin="miter"/>
<path d="M540.30 316.20 l-3.2 -1.9 v3.8 z" fill="#F9844A"/>
<path d="M585.99 356.91 l-3.2 -1.9 v3.8 z" fill="#F9844A"/>
<path d="M616.35 402.60 l-3.2 -1.9 v3.8 z" fill="#F9844A"/>
<path d="M590.77 453.07 l-3.2 -1.9 v3.8 z" fill="#F9844A"/>
<path d="M540.30 476.22 l-3.2 -1.9 v3.8 z" fill="#F9844A"/>
<path d="M489.83 453.07 l-3.2 -1.9 v3.8 z" fill="#F9844A"/>
<path d="M466.23 402.60 l-3.2 -1.9 v3.8 z" fill="#F9844A"/>
<path d="M494.48 356.78 l-3.2 -1.9 v3.8 z" fill="#F9844A"/>
<polygon points="539.00,327.90 586.41,355.19 614.60,402.60 587.11,450.71 539.00,466.50 491.91,449.69 464.93,402.60 488.72,352.32" fill="none" stroke="#EE5A78" stroke-width="2.2" stroke-linejoin="miter" stroke-dasharray="9 4.5"/>
<path d="M540.30 327.90 l-3.2 -1.9 v3.8 z" fill="#EE5A78"/>
<path d="M587.71 355.19 l-3.2 -1.9 v3.8 z" fill="#EE5A78"/>
<path d="M615.90 402.60 l-3.2 -1.9 v3.8 z" fill="#EE5A78"/>
<path d="M588.41 450.71 l-3.2 -1.9 v3.8 z" fill="#EE5A78"/>
<path d="M540.30 466.50 l-3.2 -1.9 v3.8 z" fill="#EE5A78"/>
<path d="M493.21 449.69 l-3.2 -1.9 v3.8 z" fill="#EE5A78"/>
<path d="M466.23 402.60 l-3.2 -1.9 v3.8 z" fill="#EE5A78"/>
<path d="M490.02 352.32 l-3.2 -1.9 v3.8 z" fill="#EE5A78"/>
<polygon points="539.00,327.90 588.83,352.77 621.35,402.60 595.19,458.79 539.00,468.57 491.91,449.69 455.12,402.60 483.44,347.04" fill="none" stroke="#BF2C9C" stroke-width="2.3" stroke-linejoin="miter" stroke-dasharray="2.2 2.7"/>
<path d="M540.30 327.90 l-3.2 -1.9 v3.8 z" fill="#BF2C9C"/>
<path d="M590.13 352.77 l-3.2 -1.9 v3.8 z" fill="#BF2C9C"/>
<path d="M622.65 402.60 l-3.2 -1.9 v3.8 z" fill="#BF2C9C"/>
<path d="M596.49 458.79 l-3.2 -1.9 v3.8 z" fill="#BF2C9C"/>
<path d="M540.30 468.57 l-3.2 -1.9 v3.8 z" fill="#BF2C9C"/>
<path d="M493.21 449.69 l-3.2 -1.9 v3.8 z" fill="#BF2C9C"/>
<path d="M456.42 402.60 l-3.2 -1.9 v3.8 z" fill="#BF2C9C"/>
<path d="M484.74 347.04 l-3.2 -1.9 v3.8 z" fill="#BF2C9C"/>
<polygon points="539.00,331.50 577.37,364.23 609.38,402.60 576.55,440.15 539.00,472.35 497.00,444.60 470.24,402.60 488.09,351.69" fill="none" stroke="#8A00D0" stroke-width="2.9" stroke-linejoin="miter" stroke-dasharray="10.5 3 2.6 3"/>
<path d="M540.30 331.50 l-3.2 -1.9 v3.8 z" fill="#8A00D0"/>
<path d="M578.67 364.23 l-3.2 -1.9 v3.8 z" fill="#8A00D0"/>
<path d="M610.68 402.60 l-3.2 -1.9 v3.8 z" fill="#8A00D0"/>
<path d="M577.85 440.15 l-3.2 -1.9 v3.8 z" fill="#8A00D0"/>
<path d="M540.30 472.35 l-3.2 -1.9 v3.8 z" fill="#8A00D0"/>
<path d="M498.30 444.60 l-3.2 -1.9 v3.8 z" fill="#8A00D0"/>
<path d="M471.54 402.60 l-3.2 -1.9 v3.8 z" fill="#8A00D0"/>
<path d="M489.39 351.69 l-3.2 -1.9 v3.8 z" fill="#8A00D0"/>
<circle cx="600.30" cy="340.90" r="9.35" fill="none" stroke="#858585" stroke-width="1.4"/>
<path d="M3.2 0 L-2.6 -2.6 L-1.4 0 L-2.6 2.6 Z" stroke="#858585" stroke-width="0.6" stroke-linejoin="round" fill="#858585" transform="translate(600.30,340.90) rotate(-45)"/>
<circle cx="625.00" cy="402.90" r="9.35" fill="none" stroke="#858585" stroke-width="1.4"/>
<path d="M3.2 0 L-2.6 -2.6 L-1.4 0 L-2.6 2.6 Z" stroke="#858585" stroke-width="0.6" stroke-linejoin="round" fill="#858585" transform="translate(625.00,402.90) rotate(0)"/>
<circle cx="599.20" cy="467.50" r="9.35" fill="none" stroke="#858585" stroke-width="1.4"/>
<path d="M3.2 0 L-2.6 -2.6 L-1.4 0 L-2.6 2.6 Z" stroke="#858585" stroke-width="0.6" stroke-linejoin="round" fill="#858585" transform="translate(599.20,467.50) rotate(45)"/>
<circle cx="538.70" cy="492.90" r="9.35" fill="none" stroke="#858585" stroke-width="1.4"/>
<path d="M3.2 0 L-2.6 -2.6 L-1.4 0 L-2.6 2.6 Z" stroke="#858585" stroke-width="0.6" stroke-linejoin="round" fill="#858585" transform="translate(538.70,492.90) rotate(90)"/>
<circle cx="473.50" cy="465.60" r="9.35" fill="none" stroke="#858585" stroke-width="1.4"/>
<path d="M3.2 0 L-2.6 -2.6 L-1.4 0 L-2.6 2.6 Z" stroke="#858585" stroke-width="0.6" stroke-linejoin="round" fill="#858585" transform="translate(473.50,465.60) rotate(135)"/>
<circle cx="448.30" cy="403.20" r="9.35" fill="none" stroke="#858585" stroke-width="1.4"/>
<path d="M3.2 0 L-2.6 -2.6 L-1.4 0 L-2.6 2.6 Z" stroke="#858585" stroke-width="0.6" stroke-linejoin="round" fill="#858585" transform="translate(448.30,403.20) rotate(180)"/>
<circle cx="473.50" cy="339.40" r="9.35" fill="none" stroke="#858585" stroke-width="1.4"/>
<path d="M3.2 0 L-2.6 -2.6 L-1.4 0 L-2.6 2.6 Z" stroke="#858585" stroke-width="0.6" stroke-linejoin="round" fill="#858585" transform="translate(473.50,339.40) rotate(225)"/>
<text x="539.10" y="388.60" font-size="13" text-anchor="middle" style="fill:#200b1c;stroke:#200b1c">5.0</text>
<text x="539.10" y="370.60" font-size="13" text-anchor="middle" style="fill:#200b1c;stroke:#200b1c">28.8</text>
<text x="539.10" y="352.60" font-size="13" text-anchor="middle" style="fill:#200b1c;stroke:#200b1c">52.5</text>
<text x="539.10" y="334.60" font-size="13" text-anchor="middle" style="fill:#200b1c;stroke:#200b1c">76.3</text>
<text x="539.10" y="316.30" font-size="13" text-anchor="middle" style="fill:#1c1c1c;stroke:#1c1c1c">100.0</text>
<circle cx="540.80" cy="312.80" r="8.8" fill="none" stroke="#F51616" stroke-width="1.9"/>
<path d="M539.60 313.40 l3.4 -3.8 l-1.2 5 z" fill="#F51616" stroke="#F51616" stroke-width="1.4" stroke-linejoin="round"/>
<text x="539.00" y="297.80" font-size="13" text-anchor="middle">DA1</text>
<text x="629.50" y="330.30" font-size="13" text-anchor="middle">DA2</text>
<text x="661.30" y="407.60" font-size="13" text-anchor="middle">DA3</text>
<text x="629.50" y="485.50" font-size="13" text-anchor="middle">DA4</text>
<text x="539.00" y="517.10" font-size="13" text-anchor="middle">DA5</text>
<text x="448.50" y="485.50" font-size="13" text-anchor="middle">DA6</text>
<text x="416.70" y="407.60" font-size="13" text-anchor="middle">DA7</text>
<text x="448.50" y="330.30" font-size="13" text-anchor="middle">DA8</text>
<text x="538.80" y="278.30" font-size="21" font-weight="bold" text-anchor="middle" style="fill:#000;stroke:#000;stroke-width:0.3px">ANN</text>
</g>
<rect x="309.7" y="230" width="64.3" height="74.3" fill="#fff" stroke="#2a2a2a" stroke-width="1.05"/>
<line x1="312.4" y1="240.20" x2="341" y2="240.20" stroke="#F9844A" stroke-width="1.6"/>
<path d="M329.20 240.20 l-3.4 -1.8 v3.6 z" fill="#F9844A"/>
<text x="342.8" y="244.90" font-size="13.6">20%</text>
<line x1="312.4" y1="258.30" x2="341" y2="258.30" stroke="#EE5A78" stroke-width="1.6" stroke-dasharray="6 7"/>
<path d="M329.20 258.30 l-3.4 -1.8 v3.6 z" fill="#EE5A78"/>
<text x="342.8" y="263.00" font-size="13.6">40%</text>
<line x1="312.4" y1="276.40" x2="341" y2="276.40" stroke="#BF2C9C" stroke-width="1.6" stroke-dasharray="1.3 1.7"/>
<path d="M329.20 276.40 l-3.4 -1.8 v3.6 z" fill="#BF2C9C"/>
<text x="342.8" y="281.10" font-size="13.6">60%</text>
<line x1="312.4" y1="294.50" x2="341" y2="294.50" stroke="#8A00D0" stroke-width="1.6" stroke-dasharray="5.5 2 1.3 2"/>
<path d="M329.20 294.50 l-3.4 -1.8 v3.6 z" fill="#8A00D0"/>
<text x="342.8" y="299.20" font-size="13.6">80%</text>
</svg></body></html>
